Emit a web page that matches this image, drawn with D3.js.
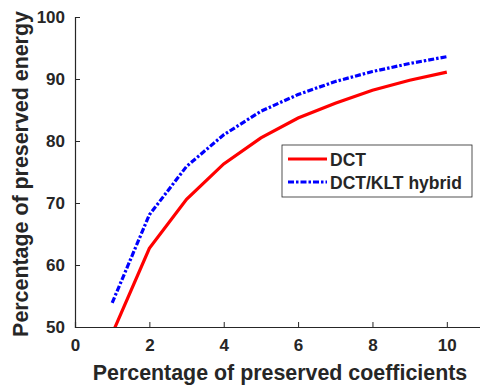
<!DOCTYPE html>
<html>
<head>
<meta charset="utf-8">
<script src="https://cdn.jsdelivr.net/npm/d3@7"></script>
<style>
  body { margin: 0; background: #fff; }
  text { font-family: "Liberation Sans", Arial, sans-serif; font-weight: bold; fill: #262626; }
</style>
</head>
<body>
<div id="chart"></div>
<script>
var svgWidth = 480;
var svgHeight = 387;

// data
var xValues = [1, 2, 3, 4, 5, 6, 7, 8, 9, 10];
var dctValues = [48.9, 62.7, 70.6, 76.3, 80.5, 83.7, 86.1, 88.2, 89.8, 91.1];
var hybridValues = [53.9, 68.1, 75.9, 81.0, 84.8, 87.5, 89.6, 91.2, 92.5, 93.6];
var seriesNames = ["DCT", "DCT/KLT hybrid"];
var xTicks = [0, 2, 4, 6, 8, 10];
var yTicks = [50, 60, 70, 80, 90, 100];

var margin = { top: 17, bottom: 60, right: 0, left: 75 };
var chartHeight = svgHeight - margin.top - margin.bottom;

var svg = d3.select("#chart")
    .append("svg")
    .attr("width", svgWidth)
    .attr("height", svgHeight);

var chartGroup = svg.append("g")
    .attr("transform", `translate(${margin.left},${margin.top})`);

var xScale = d3.scaleLinear()
    .domain([0, 11])
    .range([0, 409]);

var yScale = d3.scaleLinear()
    .domain([50, 100])
    .range([chartHeight, 0]);

// clip so the red line is cut at 50 like the original
svg.append("defs").append("clipPath")
    .attr("id", "plotClip")
    .append("rect")
    .attr("x", 0).attr("y", 0)
    .attr("width", 420).attr("height", chartHeight);

// axes, ticks pointing inward
var xAxis = d3.axisBottom(xScale).tickValues(xTicks).tickSize(-5).tickPadding(10);
var yAxis = d3.axisLeft(yScale).tickValues(yTicks).tickSize(-5).tickPadding(10);

var xg = chartGroup.append("g")
    .attr("transform", `translate(0,${chartHeight})`)
    .call(xAxis);
var yg = chartGroup.append("g").call(yAxis);

[xg, yg].forEach(function(g) {
    g.select(".domain").attr("stroke", "#262626").attr("stroke-width", 1.2);
    g.selectAll(".tick line").attr("stroke", "#262626");
    g.selectAll(".tick text")
        .style("font-size", "17px")
        .style("font-family", "Liberation Sans, Arial, sans-serif")
        .style("font-weight", "bold")
        .attr("fill", "#262626");
});
xg.selectAll(".tick text").attr("dy", "0.85em");

var line = d3.line()
    .x(function(d, i) { return xScale(xValues[i]); })
    .y(function(d) { return yScale(d); });

var plot = chartGroup.append("g").attr("clip-path", "url(#plotClip)");

plot.append("path")
    .datum(dctValues)
    .attr("d", line)
    .attr("fill", "none")
    .attr("stroke", "#ff0000")
    .attr("stroke-width", 3.2);

plot.append("path")
    .datum(hybridValues)
    .attr("d", line)
    .attr("fill", "none")
    .attr("stroke", "#0000ff")
    .attr("stroke-width", 3.2)
    .attr("stroke-dasharray", "6,2,2.5,2");

// axis labels
svg.append("text")
    .attr("x", 280)
    .attr("y", 380)
    .attr("text-anchor", "middle")
    .style("font-size", "21.4px")
    .text("Percentage of preserved coefficients");

svg.append("text")
    .attr("transform", `translate(28,174) rotate(-90)`)
    .attr("text-anchor", "middle")
    .style("font-size", "21.4px")
    .text("Percentage of preserved energy");

// legend
var legend = svg.append("g").attr("transform", "translate(282,145)");
legend.append("rect")
    .attr("width", 190).attr("height", 52)
    .attr("fill", "#fff")
    .attr("stroke", "#262626")
    .attr("stroke-width", 0.8);

var legendStyles = [
    { color: "#ff0000", dash: null },
    { color: "#0000ff", dash: "6,2,2.5,2" }
];
seriesNames.forEach(function(name, i) {
    var yy = 14 + i * 23;
    legend.append("line")
        .attr("x1", 6).attr("x2", 45)
        .attr("y1", yy).attr("y2", yy)
        .attr("stroke", legendStyles[i].color)
        .attr("stroke-width", 3.2)
        .attr("stroke-dasharray", legendStyles[i].dash);
    legend.append("text")
        .attr("x", 48)
        .attr("y", yy + 6.5)
        .style("font-size", "17.5px")
        .text(name);
});
</script>
</body>
</html>
